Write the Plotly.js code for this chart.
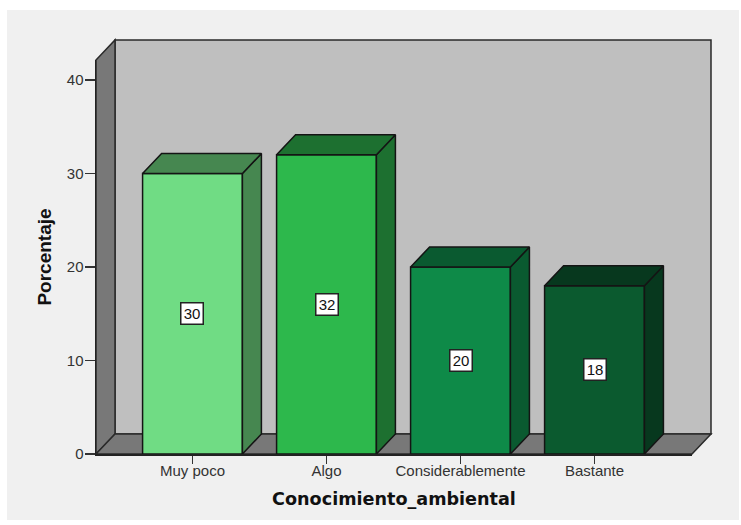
<!DOCTYPE html>
<html>
<head>
<meta charset="utf-8">
<script src="https://cdn.plot.ly/plotly-3.0.1.min.js"></script>
<style>
  html, body { margin: 0; padding: 0; background: #ffffff; }
  #chart { position: absolute; left: 7px; top: 10px; width: 732px; height: 510px; }
</style>
</head>
<body>
<div id="chart"></div>
<script>
// Survey results: environmental knowledge, percentage per answer
const categories = ['Muy poco', 'Algo', 'Considerablemente', 'Bastante'];
const values = [30, 32, 20, 18];
const yTicks = [0, 10, 20, 30, 40];
const frontColors = ['#70DC84', '#2DB84C', '#0E8A48', '#0B5A2F'];
const sideColors = ['#468750', '#1D7030', '#0A5A30', '#07381E'];
const topColors = ['#468750', '#1D7030', '#0A5A30', '#07381E'];

// Oblique projection used for the 3D look
const barWidth = 0.745;
const depthX = 0.1418;   // in category units
const depthY = 2.14;     // in percentage units
const wallDX = 19 / 596; // in plot fractions
const wallDY = 20 / 394;

const edge = { color: '#141414', width: 1.5 };

const traces = [{
  type: 'bar',
  x: categories.map((_, i) => i),
  y: values,
  width: barWidth,
  marker: { color: frontColors, line: edge },
  hoverinfo: 'skip',
  showlegend: false
}];

function face(xs, ys, color) {
  traces.push({
    type: 'scatter', mode: 'lines', x: xs, y: ys,
    fill: 'toself', fillcolor: color, line: edge,
    cliponaxis: false, hoverinfo: 'skip', showlegend: false
  });
}

values.forEach((v, i) => {
  const l = i - barWidth / 2, r = i + barWidth / 2;
  face([r, r + depthX, r + depthX, r, r], [0, depthY, v + depthY, v, 0], sideColors[i]);
  face([l, l + depthX, r + depthX, r, l], [v, v + depthY, v + depthY, v, v], topColors[i]);
});

function panel(points, fill, lineColor) {
  const path = 'M' + points.map(p => p.join(',')).join('L') + 'Z';
  return {
    type: 'shape', xref: 'paper', yref: 'paper', layer: 'below', path: path,
    fillcolor: fill, line: { color: lineColor, width: 1.5 }
  };
}

const shapes = [
  panel([[wallDX, wallDY], [1 + wallDX, wallDY], [1 + wallDX, 1 + wallDY], [wallDX, 1 + wallDY]], '#BFBFBF', '#2a2a2a'),
  panel([[0, 0], [wallDX, wallDY], [wallDX, 1 + wallDY], [0, 1]], '#787878', '#2a2a2a'),
  panel([[0, 0], [wallDX, wallDY], [1 + wallDX, wallDY], [1, 0]], '#787878', '#2a2a2a')
];

const annotations = values.map((v, i) => ({
  x: i, y: v / 2, text: String(v), showarrow: false,
  font: { family: 'Liberation Sans', size: 15, color: '#111111' },
  bgcolor: '#ffffff', bordercolor: '#222222', borderwidth: 1.5,
  width: 21, height: 20, borderpad: 0, align: 'center', valign: 'middle'
}));

const layout = {
  width: 732, height: 510,
  margin: { l: 89, r: 47, t: 50, b: 66 },
  paper_bgcolor: '#F0F0F0',
  plot_bgcolor: 'rgba(0,0,0,0)',
  showlegend: false,
  shapes: shapes,
  annotations: annotations,
  xaxis: {
    range: [-0.7201, 3.7276],
    tickmode: 'array',
    tickvals: categories.map((_, i) => i),
    ticktext: categories,
    ticks: 'outside', ticklen: 8, tickwidth: 1.5, tickcolor: '#333333',
    ticklabelstandoff: -6,
    showgrid: false, zeroline: false,
    showline: true, linecolor: '#222222', linewidth: 1.5,
    tickfont: { family: 'Liberation Sans', size: 15, color: '#333333' },
    title: {
      text: 'Conocimiento_ambiental', standoff: 15,
      font: { family: 'DejaVu Sans', size: 17.6, color: '#111111', weight: 'bold' }
    }
  },
  yaxis: {
    range: [0, 42.14],
    tickmode: 'array',
    tickvals: yTicks,
    ticks: 'outside', ticklen: 10, tickwidth: 1.5, tickcolor: '#333333',
    ticklabelstandoff: -2,
    showgrid: false, zeroline: false,
    showline: true, linecolor: '#222222', linewidth: 1.5,
    tickfont: { family: 'Liberation Sans', size: 15, color: '#333333' },
    title: {
      text: 'Porcentaje', standoff: 10,
      font: { family: 'Liberation Sans', size: 19, color: '#111111', weight: 'bold' }
    }
  }
};

Plotly.newPlot('chart', traces, layout, { staticPlot: true, displayModeBar: false });
</script>
</body>
</html>
